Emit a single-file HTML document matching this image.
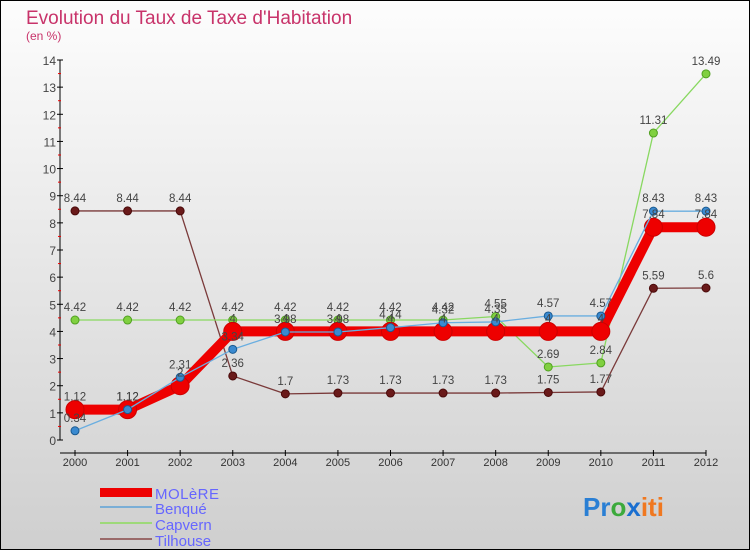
<!DOCTYPE html>
<html><head><meta charset="utf-8"><style>
body{margin:0}
svg{display:block;font-family:"Liberation Sans",sans-serif}
</style></head><body>
<svg id="c" width="750" height="550">
<defs><linearGradient id="bg" x1="0" y1="0" x2="0" y2="1"><stop offset="0" stop-color="#fdfdfd"/><stop offset="1" stop-color="#cfcfcf"/></linearGradient></defs>
<rect x="0.5" y="0.5" width="749" height="549" fill="url(#bg)" stroke="#000"/>
<text x="26" y="24" font-size="19" fill="#c8336a">Evolution du Taux de Taxe d'Habitation</text>
<text x="26" y="40" font-size="12" fill="#c8336a">(en %)</text>
<g id="axes"></g><g id="series"></g><g id="labels"></g>
<g>
<rect x="100" y="488" width="52" height="9" fill="#e00"/>
<text x="155" y="499" font-size="15" fill="#6666ff" textLength="64">MOLèRE</text>
<rect x="100" y="506" width="52" height="2" fill="#7aaed6"/>
<text x="155" y="514" font-size="15" fill="#6666ff">Benqué</text>
<rect x="100" y="522" width="52" height="2" fill="#9ed97a"/>
<text x="155" y="530" font-size="15" fill="#6666ff">Capvern</text>
<rect x="100" y="538" width="52" height="2" fill="#9a6a6a"/>
<text x="155" y="546" font-size="15" fill="#6666ff">Tilhouse</text>
</g>
<g font-size="26" font-weight="bold">
<text x="583" y="516"><tspan fill="#2a7fd4">Pr</tspan><tspan fill="#3caa3c">o</tspan><tspan fill="#1a6fd0">x</tspan><tspan fill="#f07820">iti</tspan></text>
</g>
</svg>
<script>
const years=[2000,2001,2002,2003,2004,2005,2006,2007,2008,2009,2010,2011,2012];
const molere=[1.12,1.12,2,4,4,4,4,4,4,4,4,7.84,7.84];
const benque=[0.34,1.12,2.31,3.34,3.98,3.98,4.14,4.32,4.35,4.57,4.57,8.43,8.43];
const capvern=[4.42,4.42,4.42,4.42,4.42,4.42,4.42,4.42,4.55,2.69,2.84,11.31,13.49];
const tilhouse=[8.44,8.44,8.44,2.36,1.7,1.73,1.73,1.73,1.73,1.75,1.77,5.59,5.6];
const yTicks=[0,1,2,3,4,5,6,7,8,9,10,11,12,13,14];
const NS="http://www.w3.org/2000/svg";
const x=i=>75+i*(706-75)/(years.length-1);
const y=v=>440-v*(380/14);
function mk(t,a,p){const e=document.createElementNS(NS,t);for(const k in a)e.setAttribute(k,a[k]);p.appendChild(e);return e;}
const ax=document.getElementById('axes');
const yl=mk('line',{x1:60,y1:y(14),x2:60,y2:440,stroke:'#000'},ax);


const xl=mk('line',{x1:60,y1:453,x2:706,y2:453,stroke:'#000'},ax);


yTicks.forEach(v=>{
 mk('line',{x1:57,y1:y(v),x2:63,y2:y(v),stroke:'#000'},ax);
 if(v<14)mk('line',{x1:58,y1:y(v+0.5),x2:61,y2:y(v+0.5),stroke:'#e00'},ax);
 const t=mk('text',{x:56,y:y(v)+5,'font-size':12,fill:'#444','text-anchor':'end'},ax);t.textContent=v;
 
 
});
years.forEach((yr,i)=>{
 mk('line',{x1:x(i),y1:450,x2:x(i),y2:456,stroke:'#000'},ax);
 const t=mk('text',{x:x(i),y:466,'font-size':11,fill:'#333','text-anchor':'middle'},ax);t.textContent=yr;
 
 
});
const S=document.getElementById('series'),L=document.getElementById('labels');
function series(d,name,col,w,r,dot,stroke){
 const g=mk('g',{},S);
 
 
 mk('polyline',{points:d.map((v,i)=>x(i)+','+y(v)).join(' '),fill:'none',stroke:col,'stroke-width':w,'stroke-linejoin':'round'},g);
 d.forEach((v,i)=>{
  const c=mk('circle',{cx:x(i),cy:y(v),r:r,fill:dot,stroke:stroke,'stroke-width':1},g);
  
  
  const t=mk('text',{x:x(i),y:y(v)-9,'font-size':11.5,fill:'#444','text-anchor':'middle'},L);
  t.textContent=String(v);
  
  
 });
}
series(tilhouse,'tilhouse','#7a3a3a',1.3,4,'#6a1a1a','#4a0a0a');
series(capvern,'capvern','#88d860',1.3,4,'#80d040','#50a020');
series(molere,'molere','#ee0000',10,9,'#ee0000','#cc0000');
series(benque,'benque','#6aaee0',1.3,4,'#3a8ad0','#1a5a90');
</script>
</body></html>
